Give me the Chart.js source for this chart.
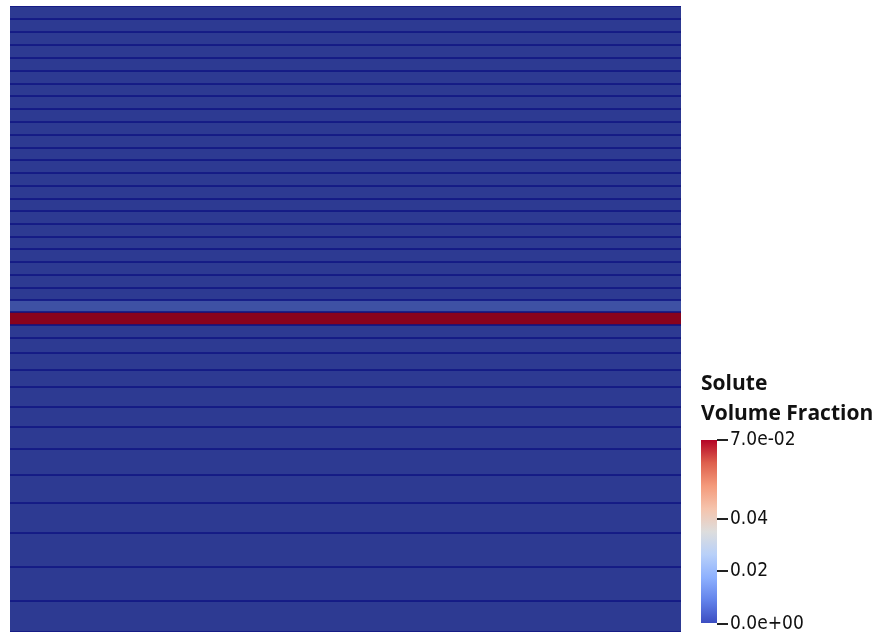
<!DOCTYPE html>
<html>
<head>
<meta charset="utf-8">
<script src="https://cdn.jsdelivr.net/npm/chart.js@4.4.1/dist/chart.umd.min.js"></script>
<style>
  html, body { margin: 0; padding: 0; background: #fff; width: 880px; height: 632px; overflow: hidden; }
  #field { position: absolute; left: 0; top: 0; }
  #colorbar { position: absolute; left: 690px; top: 360px; }
</style>
</head>
<body>
<canvas id="field" width="690" height="632"></canvas>
<canvas id="colorbar" width="190" height="277"></canvas>
<script>
// layer boundaries, depth from the top of the domain (top to bottom)
const layerDepths = [0, 13, 26, 39, 52, 65, 78, 90, 103, 116, 129, 142, 154, 167,
  180, 193, 205, 218, 231, 243, 256, 269, 282, 294, 306, 319, 332, 347,
  364, 381, 401, 421, 443, 469, 497, 527, 561, 595, 626];

// solute volume fraction in each layer (top to bottom)
const layerFraction = [0, 0, 0, 0, 0, 0, 0, 0, 0, 0, 0, 0, 0, 0, 0, 0, 0, 0, 0, 0, 0, 0, 0,
  0.005, 0.07,
  0, 0, 0, 0, 0, 0, 0, 0, 0, 0, 0, 0, 0];

// colour bar
const rangeMin = 0;
const rangeMax = 0.07;
const colorTicks = [0, 0.02, 0.04, 0.07];
const colorTickLabels = ['0.0e+00', '0.02', '0.04', '7.0e-02'];

// ParaView "Cool to Warm" map
const coolWarm = [[59, 76, 192], [98, 130, 234], [141, 176, 254], [184, 208, 249],
  [221, 221, 221], [245, 196, 173], [244, 154, 123], [222, 96, 77], [180, 4, 38]];

function mapColor(v, shade) {
  let t = (v - rangeMin) / (rangeMax - rangeMin);
  t = Math.min(1, Math.max(0, t));
  const pos = t * (coolWarm.length - 1);
  const i = Math.min(coolWarm.length - 2, Math.floor(pos));
  const f = pos - i;
  const c = coolWarm[i].map((a, k) => Math.round((a + (coolWarm[i + 1][k] - a) * f) * shade));
  return `rgb(${c[0]},${c[1]},${c[2]})`;
}

// one floating bar per layer, all on top of each other
const fieldSets = layerFraction.map((v, i) => ({
  data: [[layerDepths[i], layerDepths[i + 1]]],
  backgroundColor: mapColor(v, 0.76),
  borderColor: '#0f1382',
  borderWidth: { top: 1, bottom: 1, left: 0, right: 0 },
  borderSkipped: false,
  grouped: false,
  barPercentage: 1,
  categoryPercentage: 1,
}));

new Chart(document.getElementById('field'), {
  type: 'bar',
  data: { labels: [''], datasets: fieldSets },
  options: {
    responsive: false,
    animation: false,
    layout: { padding: { left: 10, top: 6, right: 9, bottom: 0 } },
    plugins: { legend: { display: false }, tooltip: { enabled: false } },
    scales: {
      x: { display: false },
      y: { display: false, reverse: true, min: 0, max: layerDepths[layerDepths.length - 1] },
    },
  },
});

const tickFont = { family: "'Liberation Sans Narrow', 'DejaVu Sans Condensed', sans-serif", size: 19 };

new Chart(document.getElementById('colorbar'), {
  type: 'bar',
  data: {
    labels: [''],
    datasets: [{
      data: [[rangeMin, rangeMax]],
      backgroundColor: (ctx) => {
        const area = ctx.chart.chartArea;
        if (!area) return mapColor(rangeMin, 1);
        const g = ctx.chart.ctx.createLinearGradient(0, area.bottom, 0, area.top);
        coolWarm.forEach((c, i) => g.addColorStop(i / (coolWarm.length - 1), `rgb(${c[0]},${c[1]},${c[2]})`));
        return g;
      },
      borderWidth: 0,
      barPercentage: 1,
      categoryPercentage: 1,
    }],
  },
  options: {
    responsive: false,
    animation: false,
    layout: { padding: { left: 11, right: 0, top: 0, bottom: 0 } },
    plugins: {
      legend: { display: false },
      tooltip: { enabled: false },
      title: {
        display: true,
        text: ['Solute', 'Volume Fraction'],
        align: 'start',
        color: '#111',
        font: { family: "'Open Sans', sans-serif", size: 21, weight: 'bold', lineHeight: '30px' },
        padding: { top: 9, bottom: 11 },
      },
    },
    scales: {
      x: { display: false },
      y: {
        position: 'right',
        min: rangeMin,
        max: rangeMax,
        border: { display: false },
        grid: { drawOnChartArea: false, tickLength: 11, color: '#222', lineWidth: 2 },
        ticks: {
          padding: 2,
          color: '#111',
          font: tickFont,
          callback: (v, i) => colorTickLabels[i],
        },
        afterBuildTicks: (s) => { s.ticks = colorTicks.map((v) => ({ value: v })); },
        afterFit: (s) => { s.width = 163; },
      },
    },
  },
});
</script>
</body>
</html>
